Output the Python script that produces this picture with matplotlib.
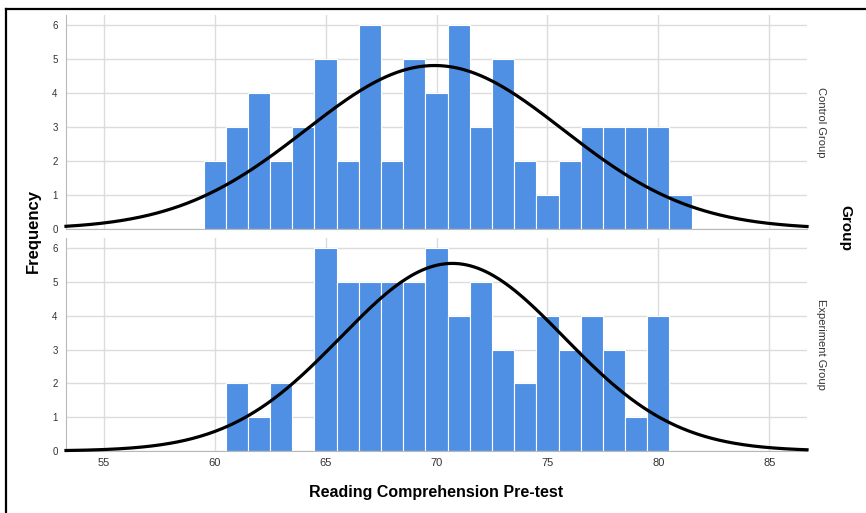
import numpy as np
import matplotlib.pyplot as plt
from matplotlib.lines import Line2D

plt.rcParams['font.family'] = ['Liberation Sans', 'DejaVu Sans']

# bin centres (width 1) and counts
control_scores = [60, 61, 62, 63, 64, 65, 66, 67, 68, 69, 70,
                  71, 72, 73, 74, 75, 76, 77, 78, 79, 80, 81]
control_counts = [2, 3, 4, 2, 3, 5, 2, 6, 2, 5, 4,
                  6, 3, 5, 2, 1, 2, 3, 3, 3, 3, 1]

experiment_scores = [61, 62, 63, 64, 65, 66, 67, 68, 69, 70,
                     71, 72, 73, 74, 75, 76, 77, 78, 79, 80]
experiment_counts = [2, 1, 2, 0, 6, 5, 5, 5, 5, 6,
                     4, 5, 3, 2, 4, 3, 4, 3, 1, 4]

group_names = ['Control Group', 'Experiment Group']
x_ticks = [55, 60, 65, 70, 75, 80, 85]
y_ticks = [0, 1, 2, 3, 4, 5, 6]

bar_color = '#4f90e4'
grid_color = '#dcdcdc'

fig = plt.figure(figsize=(8.66, 5.13), dpi=100)
ax_top = fig.add_axes([0.0762, 0.5536, 0.8557, 0.4172])
ax_bot = fig.add_axes([0.0762, 0.1209, 0.8557, 0.4152])

panels = [(ax_top, control_scores, control_counts),
          (ax_bot, experiment_scores, experiment_counts)]

xs = np.linspace(53.3, 86.7, 400)
for i, (ax, scores, counts) in enumerate(panels):
    scores = np.array(scores, dtype=float)
    counts = np.array(counts, dtype=float)
    ax.bar(scores, counts, width=1.0, color=bar_color, edgecolor='white',
           linewidth=0.8, zorder=2)
    # normal curve from the binned data
    n = counts.sum()
    mu = (scores * counts).sum() / n
    sd = np.sqrt(((scores - mu) ** 2 * counts).sum() / (n - 1))
    ys = n / (sd * np.sqrt(2 * np.pi)) * np.exp(-0.5 * ((xs - mu) / sd) ** 2)
    ax.plot(xs, ys, color='black', lw=2.3, zorder=3, clip_on=False)

    ax.set_xlim(53.3, 86.7)
    ax.set_ylim(0, 6.3)
    ax.set_xticks(x_ticks)
    ax.set_yticks(y_ticks)
    ax.grid(True, color=grid_color, lw=1.0, zorder=0)
    ax.set_axisbelow(True)
    for s in ['top', 'right']:
        ax.spines[s].set_visible(False)
    ax.spines['left'].set_color('#b8b8b8')
    ax.spines['bottom'].set_color('#b8b8b8')
    ax.tick_params(length=0, labelsize=7, colors='#333333', pad=6)
    ax.tick_params(axis='x', labelsize=8, pad=5)
    if i == 0:
        ax.tick_params(axis='x', labelbottom=False)
    ax.text(1.012, 0.5, group_names[i], transform=ax.transAxes, rotation=270,
            ha='left', va='center', fontsize=8, color='#333333')

fig.text(0.038, 0.55, 'Frequency', rotation=90, ha='center', va='center',
         fontsize=12, fontweight='bold')
fig.text(0.976, 0.556, 'Group', rotation=270, ha='center', va='center',
         fontsize=11, fontweight='bold')
fig.text(0.504, 0.04, 'Reading Comprehension Pre-test', ha='center',
         va='center', fontsize=11.5, fontweight='bold')

# frame around the picture
fig.add_artist(Line2D([6 / 866, 1.0], [1 - 9 / 513, 1 - 9 / 513],
                      transform=fig.transFigure, color='black', lw=1.6))
fig.add_artist(Line2D([6 / 866, 6 / 866], [0.0, 1 - 9 / 513],
                      transform=fig.transFigure, color='black', lw=1.6))

fig.savefig('out.png', dpi=100)
